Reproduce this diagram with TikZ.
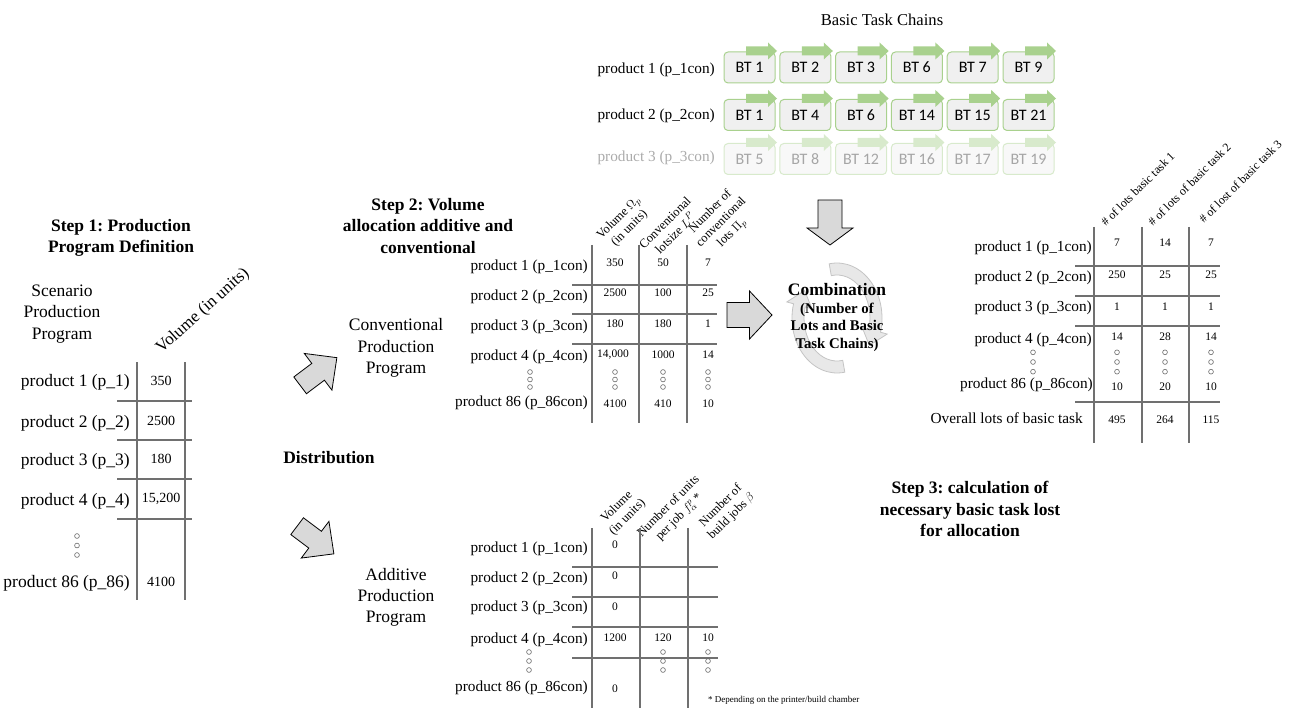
\documentclass[tikz,border=0pt]{standalone}
\usepackage{fontspec}
\setmainfont{Liberation Serif}
\newfontfamily\btfont{Carlito}
\usetikzlibrary{arrows.meta,calc}
\definecolor{btgreen}{RGB}{169,209,142}
\definecolor{btfill}{RGB}{240,240,240}
\definecolor{tgray}{RGB}{112,112,112}
\definecolor{arrfill}{RGB}{217,217,217}
\definecolor{cycfill}{RGB}{232,232,232}
\definecolor{cycline}{RGB}{196,196,196}
\newcommand{\tridots}[3]{\foreach \k in {-1,0,1}{\draw[dotc] (#1,{#2+\k*#3}) circle[radius=2.4];}}
\begin{document}
\frenchspacing
\begin{tikzpicture}[x=1pt,y=-1pt,
  lbl/.style={font=\fontsize{15.3}{18}\selectfont, inner sep=0pt, anchor=east},
  lblL/.style={font=\fontsize{17.5}{21}\selectfont, inner sep=0pt, anchor=east},
  val/.style={font=\fontsize{11.5}{14}\selectfont, inner sep=0pt},
  valL/.style={font=\fontsize{14}{16}\selectfont, inner sep=0pt},
  ttl/.style={font=\bfseries\fontsize{17.5}{21.5}\selectfont, align=center, inner sep=0pt},
  plain/.style={font=\fontsize{17.5}{21.2}\selectfont, align=center, inner sep=0pt},
  tline/.style={draw=tgray, line width=1.4pt},
  hdr/.style={font=\fontsize{12.5}{15}\selectfont, rotate=45, align=center, inner sep=0.5pt, anchor=south},
  hdrs/.style={font=\fontsize{12}{13}\selectfont, rotate=45, inner sep=0pt, anchor=south west},
  btbox/.style={draw=btgreen, fill=btfill, rounded corners=4pt, minimum width=51pt, minimum height=31pt, line width=1pt, font=\btfont\fontsize{16}{18}\selectfont, inner sep=0pt},
  btfaded/.style={btbox, draw=btgreen!45, fill=btfill!45, text=black!35},
  blockarr/.style={fill=arrfill, draw=black, line width=0.8pt, line join=miter},
  dotc/.style={draw=black!60, line width=0.6pt},
  cyc/.style={fill=cycfill, draw=cycline, line width=0.8pt, line join=miter}
]
\useasboundingbox (0,0) rectangle (1300,708);

% ---------------- Basic task chains ----------------
\node[font=\fontsize{16.6}{20}\selectfont, inner sep=0pt] (btc) at (882,20) {Basic Task Chains};
\node[lbl] (bp1) at (715,70) {product 1 (p\_1con)};
\node[lbl] (bp2) at (715,116) {product 2 (p\_2con)};
\node[lbl, text=black!33] (bp3) at (715,158) {product 3 (p\_3con)};
\foreach \t [count=\i from 0] in {BT 1,BT 2,BT 3,BT 6,BT 7,BT 9}{
  \node[btbox] (ra\i) at ({749.5+55.8*\i},67.5) {\t};
  \fill[btgreen] ([shift={(-3.5,-5)}]ra\i.north) -- ++(22,0) -- ++(0,-4) -- ++(9,8.5) -- ++(-9,8.5) -- ++(0,-4) -- ++(-22,0) -- cycle;
}
\foreach \t [count=\i from 0] in {BT 1,BT 4,BT 6,BT 14,BT 15,BT 21}{
  \node[btbox] (rb\i) at ({749.5+55.8*\i},115) {\t};
  \fill[btgreen] ([shift={(-3.5,-5)}]rb\i.north) -- ++(22,0) -- ++(0,-4) -- ++(9,8.5) -- ++(-9,8.5) -- ++(0,-4) -- ++(-22,0) -- cycle;
}
\foreach \t [count=\i from 0] in {BT 5,BT 8,BT 12,BT 16,BT 17,BT 19}{
  \node[btfaded] (rc\i) at ({749.5+55.8*\i},159) {\t};
  \fill[btgreen!45] ([shift={(-3.5,-5)}]rc\i.north) -- ++(22,0) -- ++(0,-4) -- ++(9,8.5) -- ++(-9,8.5) -- ++(0,-4) -- ++(-22,0) -- cycle;
}

% ---------------- Step 1 ----------------
\node[ttl] (s1) at (121,238) {Step 1: Production\\Program Definition};
\node[plain] (scen) at (62,314) {Scenario\\Production\\Program};
\node[font=\fontsize{17}{20}\selectfont, rotate=42, inner sep=0pt] (volhdr) at (203,311) {Volume (in units)};
\draw[tline] (137,362) -- (137,600);
\draw[tline] (185,362) -- (185,600);
\foreach \yy in {401,440,479,519}{\draw[tline] (117,\yy) -- (192,\yy);}
\node[lblL] (l1) at (130,382) {product 1 (p\_1)};
\node[lblL] (l2) at (130,423) {product 2 (p\_2)};
\node[lblL] (l3) at (130,461) {product 3 (p\_3)};
\node[lblL] (l4) at (130,501) {product 4 (p\_4)};
\node[lblL] (l86) at (130,583) {product 86 (p\_86)};
\tridots{77}{545.5}{9.5}
\node[valL] (lv1) at (161,381) {350};
\node[valL] (lv2) at (161,421) {2500};
\node[valL] (lv3) at (161,459) {180};
\node[valL] (lv4) at (161,499) {15,200};
\node[valL] (lv86) at (161,582) {4100};

% ---------------- Distribution ----------------
\node[ttl] (dist) at (329,458) {Distribution};
\begin{scope}[shift={(318.5,371.5)}, rotate=37]
\draw[blockarr] (-23,-10.5) -- (-0.5,-10.5) -- (-0.5,-23) -- (23,0) -- (-0.5,23) -- (-0.5,10.5) -- (-23,10.5) -- cycle;
\end{scope}
\begin{scope}[shift={(315.5,540)}, rotate=-37]
\draw[blockarr] (-23,-10.5) -- (-0.5,-10.5) -- (-0.5,-23) -- (23,0) -- (-0.5,23) -- (-0.5,10.5) -- (-23,10.5) -- cycle;
\end{scope}
\node[plain] (convp) at (396,348) {Conventional\\Production\\Program};
\node[plain] (addp) at (396,597.5) {Additive\\Production\\Program};

% ---------------- Step 2: conventional ----------------
\node[ttl] (s2) at (428,226) {Step 2: Volume\\allocation additive and\\conventional};
\node[hdr] (ch1) at (634,233) {Volume $\Omega_p$\\(in units)};
\node[hdr] (ch2) at (679,237) {Conventional\\lotsize $L^P$};
\node[hdr] (ch3) at (737,238) {Number of\\conventional\\lots $\Pi_p$};
\foreach \xx in {592,639,687}{\draw[tline] (\xx,245) -- (\xx,423);}
\foreach \yy in {285,314,344}{\draw[tline] (572,\yy) -- (717,\yy);}
\node[lbl] (c1) at (588,267) {product 1 (p\_1con)};
\node[lbl] (c2) at (588,297) {product 2 (p\_2con)};
\node[lbl] (c3) at (588,327) {product 3 (p\_3con)};
\node[lbl] (c4) at (588,357) {product 4 (p\_4con)};
\node[lbl] (c86) at (588,403) {product 86 (p\_86con)};
\tridots{530}{379.5}{7.5}
\tridots{615}{379.5}{7.5}
\tridots{663}{379.5}{7.5}
\tridots{708}{379.5}{7.5}
\node[val] (cv11) at (615,263) {350};
\node[val] (cv12) at (663,263) {50};
\node[val] (cv13) at (708,263) {7};
\node[val] (cv21) at (615,293) {2500};
\node[val] (cv22) at (663,293) {100};
\node[val] (cv23) at (708,293) {25};
\node[val] (cv31) at (615,324) {180};
\node[val] (cv32) at (663,324) {180};
\node[val] (cv33) at (708,324) {1};
\node[val] (cv41) at (613,355) {14,000};
\node[val] (cv42) at (663,355) {1000};
\node[val] (cv43) at (708,355) {14};
\node[val] (cv81) at (615,404) {4100};
\node[val] (cv82) at (663,404) {410};
\node[val] (cv83) at (708,404) {10};

% ---------------- Step 2: additive ----------------
\node[hdr] (ah1) at (632,522) {Volume\\(in units)};
\node[hdr] (ah2) at (684,522) {Number of units\\per job $f^p_\alpha$ *};
\node[hdr] (ah3) at (736,521) {Number of\\build jobs $\beta$};
\foreach \xx in {592,640,688}{\draw[tline] (\xx,528) -- (\xx,708);}
\foreach \yy in {567,597,627,658}{\draw[tline] (572,\yy) -- (718,\yy);}
\node[lbl] (a1) at (588,549) {product 1 (p\_1con)};
\node[lbl] (a2) at (588,579) {product 2 (p\_2con)};
\node[lbl] (a3) at (588,608) {product 3 (p\_3con)};
\node[lbl] (a4) at (588,640) {product 4 (p\_4con)};
\node[lbl] (a86) at (588,688) {product 86 (p\_86con)};
\tridots{529}{661}{9}
\tridots{663}{661}{9}
\tridots{708}{661}{9}
\node[val] (av1) at (615,545) {0};
\node[val] (av2) at (615,576) {0};
\node[val] (av3) at (615,607) {0};
\node[val] (av41) at (615,638) {1200};
\node[val] (av42) at (663,638) {120};
\node[val] (av43) at (708,638) {10};
\node[val] (av86) at (615,689) {0};
\node[font=\fontsize{9}{11}\selectfont, inner sep=0pt, anchor=west] (foot) at (708,700) {* Depending on the printer/build chamber};

% ---------------- Combination ----------------
\begin{scope}[shift={(749.5,315)}]
\draw[blockarr] (-22.5,-12.5) -- (0,-12.5) -- (0,-24) -- (22.5,0) -- (0,24) -- (0,12.5) -- (-22.5,12.5) -- cycle;
\end{scope}
\begin{scope}[shift={(830,222.5)}, rotate=-90]
\draw[blockarr] (-22.5,-12) -- (5.5,-12) -- (5.5,-23) -- (22.5,0) -- (5.5,23) -- (5.5,12) -- (-22.5,12) -- cycle;
\end{scope}
\coordinate (cc) at (837,318);
\draw[cyc] ($(cc)+(-100:45 and 55)$) arc[start angle=-100, end angle=15, x radius=45, y radius=55]
  -- ($(cc)+(15:52 and 62)$) -- ($(cc)+(34:39 and 49)$) -- ($(cc)+(15:26 and 36)$)
  -- ($(cc)+(15:33 and 43)$) arc[start angle=15, end angle=-100, x radius=33, y radius=43] -- cycle;
\draw[cyc] ($(cc)+(80:45 and 55)$) arc[start angle=80, end angle=195, x radius=45, y radius=55]
  -- ($(cc)+(195:52 and 62)$) -- ($(cc)+(214:39 and 49)$) -- ($(cc)+(195:26 and 36)$)
  -- ($(cc)+(195:33 and 43)$) arc[start angle=195, end angle=80, x radius=33, y radius=43] -- cycle;
\node[font=\bfseries\fontsize{17.5}{20}\selectfont, inner sep=0pt] (comb) at (837,290) {Combination};
\node[font=\bfseries\fontsize{14.8}{17.5}\selectfont, align=center, inner sep=0pt] (combsub) at (837,327) {(Number of\\Lots and Basic\\Task Chains)};

% ---------------- Step 3 table ----------------
\node[hdrs] (rh1) at (1106,227) {\# of lots basic task 1};
\node[hdrs] (rh2) at (1153,227) {\# of lots of basic task 2};
\node[hdrs] (rh3) at (1204,224) {\# of lost of basic task 3};
\foreach \xx in {1094,1142,1189}{\draw[tline] (\xx,227) -- (\xx,443);}
\foreach \yy in {266,296,326,402}{\draw[tline] (1075,\yy) -- (1220,\yy);}
\node[lbl] (t1) at (1092,248) {product 1 (p\_1con)};
\node[lbl] (t2) at (1092,278) {product 2 (p\_2con)};
\node[lbl] (t3) at (1092,308) {product 3 (p\_3con)};
\node[lbl] (t4) at (1092,340) {product 4 (p\_4con)};
\node[lbl] (t86) at (1093,385) {product 86 (p\_86con)};
\node[lbl] (tov) at (1083,418) {Overall lots of basic task};
\tridots{1033}{362}{9.7}
\tridots{1117}{362}{9.7}
\tridots{1165}{362}{9.7}
\tridots{1211}{362}{9.7}
\node[val] (tv11) at (1117,243) {7};
\node[val] (tv12) at (1165,243) {14};
\node[val] (tv13) at (1211,243) {7};
\node[val] (tv21) at (1117,275) {250};
\node[val] (tv22) at (1165,275) {25};
\node[val] (tv23) at (1211,275) {25};
\node[val] (tv31) at (1117,307) {1};
\node[val] (tv32) at (1165,307) {1};
\node[val] (tv33) at (1211,307) {1};
\node[val] (tv41) at (1117,337) {14};
\node[val] (tv42) at (1165,337) {28};
\node[val] (tv43) at (1211,337) {14};
\node[val] (tv81) at (1117,387) {10};
\node[val] (tv82) at (1165,387) {20};
\node[val] (tv83) at (1211,387) {10};
\node[val] (tvo1) at (1117,420) {495};
\node[val] (tvo2) at (1165,420) {264};
\node[val] (tvo3) at (1211,420) {115};
\node[ttl] (s3) at (970,509) {Step 3: calculation of\\necessary basic task lost\\for allocation};
\end{tikzpicture}
\end{document}
